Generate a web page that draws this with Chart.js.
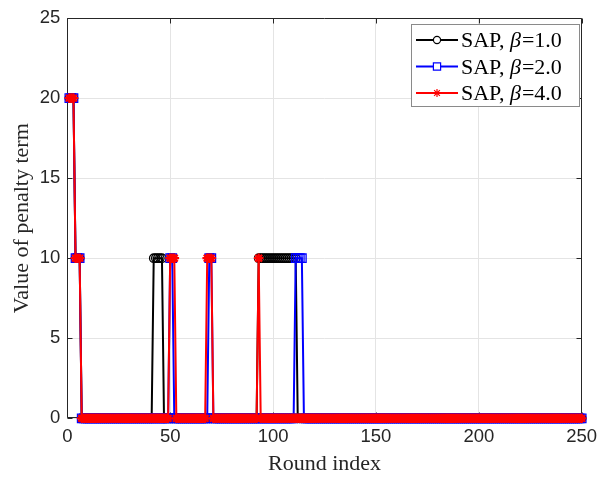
<!DOCTYPE html>
<html><head><meta charset="utf-8">
<script src="https://cdn.jsdelivr.net/npm/chart.js@4.4.1/dist/chart.umd.min.js"></script>
<style>html,body{margin:0;padding:0;background:#fff;overflow:hidden}#wrap{width:606px;height:479px}</style>
</head><body><div id="wrap"><canvas id="c" width="606" height="479"></canvas></div>
<script>
// Round index (x values)
const rounds = [
  1,2,3,4,5,6,7,8,9,10,11,12,13,14,15,16,17,18,19,20,21,22,23,24,25,
  26,27,28,29,30,31,32,33,34,35,36,37,38,39,40,41,42,43,44,45,46,47,48,49,50,
  51,52,53,54,55,56,57,58,59,60,61,62,63,64,65,66,67,68,69,70,71,72,73,74,75,
  76,77,78,79,80,81,82,83,84,85,86,87,88,89,90,91,92,93,94,95,96,97,98,99,100,
  101,102,103,104,105,106,107,108,109,110,111,112,113,114,115,116,117,118,119,120,121,122,123,124,125,
  126,127,128,129,130,131,132,133,134,135,136,137,138,139,140,141,142,143,144,145,146,147,148,149,150,
  151,152,153,154,155,156,157,158,159,160,161,162,163,164,165,166,167,168,169,170,171,172,173,174,175,
  176,177,178,179,180,181,182,183,184,185,186,187,188,189,190,191,192,193,194,195,196,197,198,199,200,
  201,202,203,204,205,206,207,208,209,210,211,212,213,214,215,216,217,218,219,220,221,222,223,224,225,
  226,227,228,229,230,231,232,233,234,235,236,237,238,239,240,241,242,243,244,245,246,247,248,249,250
];
// SAP, beta = 1.0
const penaltyBeta1 = [
  20,20,20,10,10,10,0,0,0,0,0,0,0,0,0,0,0,0,0,0,0,0,0,0,0,
  0,0,0,0,0,0,0,0,0,0,0,0,0,0,0,0,10,10,10,10,10,0,0,0,0,
  0,0,0,0,0,0,0,0,0,0,0,0,0,0,0,0,0,0,0,0,0,0,0,0,0,
  0,0,0,0,0,0,0,0,0,0,0,0,0,0,0,0,0,10,10,10,10,10,10,10,10,
  10,10,10,10,10,10,10,10,10,10,10,0,0,0,0,0,0,0,0,0,0,0,0,0,0,
  0,0,0,0,0,0,0,0,0,0,0,0,0,0,0,0,0,0,0,0,0,0,0,0,0,
  0,0,0,0,0,0,0,0,0,0,0,0,0,0,0,0,0,0,0,0,0,0,0,0,0,
  0,0,0,0,0,0,0,0,0,0,0,0,0,0,0,0,0,0,0,0,0,0,0,0,0,
  0,0,0,0,0,0,0,0,0,0,0,0,0,0,0,0,0,0,0,0,0,0,0,0,0,
  0,0,0,0,0,0,0,0,0,0,0,0,0,0,0,0,0,0,0,0,0,0,0,0,0
];
// SAP, beta = 2.0
const penaltyBeta2 = [
  20,20,20,10,10,10,0,0,0,0,0,0,0,0,0,0,0,0,0,0,0,0,0,0,0,
  0,0,0,0,0,0,0,0,0,0,0,0,0,0,0,0,0,0,0,0,0,0,0,0,10,
  10,0,0,0,0,0,0,0,0,0,0,0,0,0,0,0,0,0,10,10,0,0,0,0,0,
  0,0,0,0,0,0,0,0,0,0,0,0,0,0,0,0,0,0,0,0,0,0,0,0,0,
  0,0,0,0,0,0,0,0,0,0,10,10,10,10,0,0,0,0,0,0,0,0,0,0,0,
  0,0,0,0,0,0,0,0,0,0,0,0,0,0,0,0,0,0,0,0,0,0,0,0,0,
  0,0,0,0,0,0,0,0,0,0,0,0,0,0,0,0,0,0,0,0,0,0,0,0,0,
  0,0,0,0,0,0,0,0,0,0,0,0,0,0,0,0,0,0,0,0,0,0,0,0,0,
  0,0,0,0,0,0,0,0,0,0,0,0,0,0,0,0,0,0,0,0,0,0,0,0,0,
  0,0,0,0,0,0,0,0,0,0,0,0,0,0,0,0,0,0,0,0,0,0,0,0,0
];
// SAP, beta = 4.0
const penaltyBeta4 = [
  20,20,20,10,10,10,0,0,0,0,0,0,0,0,0,0,0,0,0,0,0,0,0,0,0,
  0,0,0,0,0,0,0,0,0,0,0,0,0,0,0,0,0,0,0,0,0,0,0,0,10,
  10,10,0,0,0,0,0,0,0,0,0,0,0,0,0,0,0,10,10,10,0,0,0,0,0,
  0,0,0,0,0,0,0,0,0,0,0,0,0,0,0,0,0,10,0,0,0,0,0,0,0,
  0,0,0,0,0,0,0,0,0,0,0,0,0,0,0,0,0,0,0,0,0,0,0,0,0,
  0,0,0,0,0,0,0,0,0,0,0,0,0,0,0,0,0,0,0,0,0,0,0,0,0,
  0,0,0,0,0,0,0,0,0,0,0,0,0,0,0,0,0,0,0,0,0,0,0,0,0,
  0,0,0,0,0,0,0,0,0,0,0,0,0,0,0,0,0,0,0,0,0,0,0,0,0,
  0,0,0,0,0,0,0,0,0,0,0,0,0,0,0,0,0,0,0,0,0,0,0,0,0,
  0,0,0,0,0,0,0,0,0,0,0,0,0,0,0,0,0,0,0,0,0,0,0,0,0
];
const seriesLabels = ['SAP, β=1.0', 'SAP, β=2.0', 'SAP, β=4.0'];
const xTicks = [0, 50, 100, 150, 200, 250];
const yTicks = [0, 5, 10, 15, 20, 25];
const xTitle = 'Round index';
const yTitle = 'Value of penalty term';

const TEXT = '#262626';
const SERIF = '"Liberation Serif", "Times New Roman", serif';
const SANS = '"Liberation Sans", Arial, Helvetica, sans-serif';

const toPts = vals => rounds.map((r, i) => ({x: r, y: vals[i]}));

const framePlugin = {
  id: 'frame',
  beforeDatasetsDraw(chart) {
    const {ctx, chartArea: a, scales: {x, y}} = chart;
    ctx.save();
    ctx.strokeStyle = TEXT;
    ctx.lineWidth = 1;
    ctx.beginPath();
    const L = Math.round(a.left) + 0.5, R = Math.round(a.right) - 0.5;
    const T = Math.round(a.top) + 0.5, B = Math.round(a.bottom) - 0.5;
    ctx.rect(L, T, R - L, B - T);
    const tl = 5;
    xTicks.forEach(v => {
      const px = Math.round(x.getPixelForValue(v)) + 0.5;
      ctx.moveTo(px, B); ctx.lineTo(px, B - tl);
      ctx.moveTo(px, T); ctx.lineTo(px, T + tl);
    });
    yTicks.forEach(v => {
      const py = Math.round(y.getPixelForValue(v)) + 0.5;
      ctx.moveTo(L, py); ctx.lineTo(L + tl, py);
      ctx.moveTo(R, py); ctx.lineTo(R - tl, py);
    });
    ctx.stroke();
    ctx.restore();
  }
};

const legendPlugin = {
  id: 'customLegend',
  afterDraw(chart) {
    const {ctx} = chart;
    const box = {x: 411.5, y: 24.5, w: 168, h: 82};
    const rowY = [40, 66.5, 93];
    const lx0 = 416, lx1 = 458, tx = 461;
    const legendMarkerScale = 0.85;
    ctx.save();
    ctx.fillStyle = '#fff';
    ctx.fillRect(box.x, box.y, box.w, box.h);
    ctx.strokeStyle = '#8a8a8a';
    ctx.lineWidth = 1;
    ctx.strokeRect(box.x, box.y, box.w, box.h);
    chart.data.datasets.forEach((ds, i) => {
      const yy = rowY[i];
      const cx = (lx0 + lx1) / 2;
      ctx.strokeStyle = ds.borderColor;
      ctx.lineWidth = ds.borderWidth;
      ctx.beginPath(); ctx.moveTo(lx0, yy); ctx.lineTo(lx1, yy); ctx.stroke();
      const r = ds.pointRadius * legendMarkerScale;
      ctx.fillStyle = '#fff';
      ctx.strokeStyle = ds.pointBorderColor;
      ctx.lineWidth = Math.min(ds.pointBorderWidth, 1.2);
      ctx.beginPath();
      if (ds.pointStyle === 'circle') { ctx.arc(cx, yy, r, 0, Math.PI * 2); ctx.fill(); ctx.stroke(); }
      else if (ds.pointStyle === 'rect') { const s = r * Math.SQRT1_2; ctx.rect(cx - s, yy - s, 2 * s, 2 * s); ctx.fill(); ctx.stroke(); }
      else { Chart.helpers.drawPoint(ctx, {pointStyle: ds.pointStyle, radius: r, rotation: 0, borderWidth: ctx.lineWidth}, cx, yy); }
      const parts = ds.label.split('β');
      ctx.fillStyle = '#000';
      ctx.textBaseline = 'alphabetic';
      ctx.textAlign = 'left';
      let cx2 = tx;
      const by = yy + 7;
      ctx.font = '22px ' + SERIF;
      ctx.fillText(parts[0], cx2, by); cx2 += ctx.measureText(parts[0]).width;
      if (parts.length > 1) {
        ctx.font = 'italic 22px ' + SERIF;
        ctx.fillText('β', cx2, by); cx2 += ctx.measureText('β').width + 1;
        ctx.font = '22px ' + SERIF;
        ctx.fillText(parts[1], cx2, by);
      }
    });
    ctx.restore();
  }
};

new Chart(document.getElementById('c'), {
  type: 'line',
  data: {
    datasets: [
      {label: seriesLabels[0], data: toPts(penaltyBeta1), borderColor: '#000000', borderWidth: 2,
       pointStyle: 'circle', pointRadius: 4.2, pointBorderWidth: 1.3, pointBorderColor: '#000000',
       pointBackgroundColor: 'rgba(0,0,0,0)', order: 3, clip: false},
      {label: seriesLabels[1], data: toPts(penaltyBeta2), borderColor: '#0000ff', borderWidth: 2,
       pointStyle: 'rect', pointRadius: 6, pointBorderWidth: 1.3, pointBorderColor: '#0000ff',
       pointBackgroundColor: 'rgba(0,0,0,0)', order: 2, clip: false},
      {label: seriesLabels[2], data: toPts(penaltyBeta4), borderColor: '#ff0000', borderWidth: 2,
       pointStyle: 'star', pointRadius: 4.8, pointBorderWidth: 2.2, pointBorderColor: '#ff0000',
       pointBackgroundColor: '#ff0000', order: 1, clip: false}
    ]
  },
  options: {
    responsive: false,
    animation: false,
    devicePixelRatio: 1,
    layout: {padding: {left: 0, right: 24.3, top: 13.3, bottom: 0}},
    elements: {line: {tension: 0}},
    plugins: {legend: {display: false}, tooltip: {enabled: false}},
    scales: {
      x: {
        type: 'linear', min: 0, max: 250,
        afterBuildTicks: s => { s.ticks = xTicks.map(v => ({value: v})); },
        afterFit: s => { s.height = 60.7; },
        ticks: {font: {family: SANS, size: 18.5}, color: TEXT, padding: 8, maxRotation: 0, autoSkip: false},
        grid: {color: '#e4e4e4', drawTicks: false, lineWidth: 1},
        border: {display: false},
        title: {display: true, text: xTitle, font: {family: SERIF, size: 22}, color: TEXT, padding: {top: 0, bottom: 2}}
      },
      y: {
        type: 'linear', min: 0, max: 25,
        afterBuildTicks: s => { s.ticks = yTicks.map(v => ({value: v})); },
        afterFit: s => { s.width = 67.3; },
        ticks: {font: {family: SANS, size: 18.5}, color: TEXT, padding: 7, autoSkip: false},
        grid: {color: '#e4e4e4', drawTicks: false, lineWidth: 1},
        border: {display: false},
        title: {display: true, text: yTitle, font: {family: SERIF, size: 22}, color: TEXT, padding: {top: 9, bottom: 0}}
      }
    }
  },
  plugins: [framePlugin, legendPlugin]
});
</script>
</body></html>
